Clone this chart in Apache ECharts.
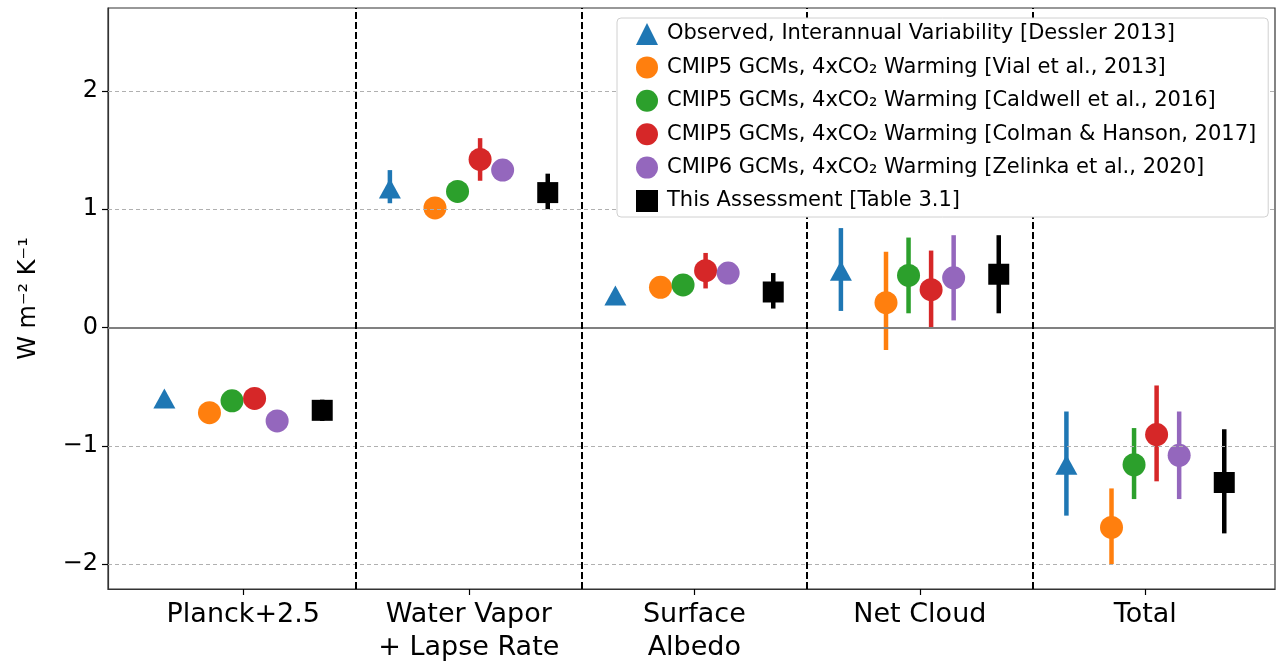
<!DOCTYPE html>
<html>
<head>
<meta charset="utf-8">
<script src="https://cdn.jsdelivr.net/npm/echarts@6/dist/echarts.min.js"></script>
<style>
  html, body { margin: 0; padding: 0; background: #fff; }
  #chart { width: 1284px; height: 664px; }
</style>
</head>
<body>
<div id="chart"></div>
<script>
// ---- data
const categories = ['Planck+2.5', 'Water Vapor\n+ Lapse Rate', 'Surface\nAlbedo', 'Net Cloud', 'Total'];
const yTicks = [-2, -1, 0, 1, 2];

const sourceNames = [
    'Observed, Interannual Variability [Dessler 2013]',
    'CMIP5 GCMs, 4xCO\u2082 Warming [Vial et al., 2013]',
    'CMIP5 GCMs, 4xCO\u2082 Warming [Caldwell et al., 2016]',
    'CMIP5 GCMs, 4xCO\u2082 Warming [Colman & Hanson, 2017]',
    'CMIP6 GCMs, 4xCO\u2082 Warming [Zelinka et al., 2020]',
    'This Assessment [Table 3.1]'
];
const offsets = [-0.35, -0.15, -0.05, 0.05, 0.15, 0.35];

const dessler     = [-0.60, 1.175, 0.27, 0.48, -1.16];
const desslerLow  = [null, 1.05, null, 0.14, -1.59];
const desslerHigh = [null, 1.33, null, 0.84, -0.71];

const vial     = [-0.72, 1.01, 0.34, 0.21, -1.69];
const vialLow  = [null, 0.92, null, -0.19, -2.00];
const vialHigh = [null, 1.10, null, 0.64, -1.36];

const caldwell     = [-0.62, 1.15, 0.36, 0.44, -1.16];
const caldwellLow  = [null, null, null, 0.12, -1.45];
const caldwellHigh = [null, null, null, 0.76, -0.85];

const colman     = [-0.60, 1.42, 0.48, 0.32, -0.905];
const colmanLow  = [null, 1.24, 0.33, 0.00, -1.30];
const colmanHigh = [null, 1.60, 0.63, 0.65, -0.49];

const zelinka     = [-0.79, 1.33, 0.46, 0.42, -1.08];
const zelinkaLow  = [null, null, null, 0.06, -1.45];
const zelinkaHigh = [null, null, null, 0.78, -0.71];

const assessment     = [-0.70, 1.14, 0.30, 0.45, -1.31];
const assessmentLow  = [-0.79, 1.00, 0.16, 0.12, -1.74];
const assessmentHigh = [-0.61, 1.30, 0.46, 0.78, -0.86];

const centers = [dessler, vial, caldwell, colman, zelinka, assessment];
const lows = [desslerLow, vialLow, caldwellLow, colmanLow, zelinkaLow, assessmentLow];
const highs = [desslerHigh, vialHigh, caldwellHigh, colmanHigh, zelinkaHigh, assessmentHigh];

const colors = ['#1f77b4', '#ff7f0e', '#2ca02c', '#d62728', '#9467bd', '#000000'];
const symbols = ['triangle', 'circle', 'circle', 'circle', 'circle', 'rect'];
const symbolSizes = [[22, 20], 23, 23, 23, 23, 21];

const FONT = 'DejaVu Sans';

var chart = echarts.init(document.getElementById('chart'));

let series = [];

// gridlines / separators / zero line
series.push({
    name: '_lines',
    type: 'line',
    data: [],
    z: 1,
    silent: true,
    markLine: {
        silent: true,
        symbol: 'none',
        animation: false,
        label: { show: false },
        data: [
            { yAxis: -2, lineStyle: { color: '#b0b0b0', width: 1, type: [4, 3] } },
            { yAxis: -1, lineStyle: { color: '#b0b0b0', width: 1, type: [4, 3] } },
            { yAxis: 1, lineStyle: { color: '#b0b0b0', width: 1, type: [4, 3] } },
            { yAxis: 2, lineStyle: { color: '#b0b0b0', width: 1, type: [4, 3] } },
            { yAxis: 0, lineStyle: { color: '#808080', width: 2, type: 'solid' } },
            { xAxis: 0.5, lineStyle: { color: '#000', width: 2, type: [7, 3] } },
            { xAxis: 1.5, lineStyle: { color: '#000', width: 2, type: [7, 3] } },
            { xAxis: 2.5, lineStyle: { color: '#000', width: 2, type: [7, 3] } },
            { xAxis: 3.5, lineStyle: { color: '#000', width: 2, type: [7, 3] } }
        ]
    }
});

sourceNames.forEach(function (name, s) {
    let errData = [];
    let ptData = [];
    categories.forEach(function (c, i) {
        let x = i + offsets[s];
        ptData.push([x, centers[s][i]]);
        if (lows[s][i] != null) {
            errData.push([x, lows[s][i], highs[s][i]]);
        }
    });
    // error bars
    series.push({
        name: '_err' + s,
        type: 'custom',
        z: 2,
        silent: true,
        data: errData,
        renderItem: function (params, api) {
            let p1 = api.coord([api.value(0), api.value(1)]);
            let p2 = api.coord([api.value(0), api.value(2)]);
            return {
                type: 'line',
                shape: { x1: p1[0], y1: p1[1], x2: p2[0], y2: p2[1] },
                style: { stroke: colors[s], lineWidth: 4.5 }
            };
        }
    });
    // markers
    series.push({
        name: name,
        type: 'scatter',
        z: 3,
        symbol: symbols[s],
        symbolSize: symbolSizes[s],
        itemStyle: { color: colors[s], opacity: 1 },
        data: ptData
    });
});

option = {
    animation: false,
    backgroundColor: '#fff',
    textStyle: { fontFamily: FONT },
    grid: {
        left: 108,
        right: 9,
        top: 8,
        bottom: 75,
        show: true,
        borderColor: '#333',
        borderWidth: 1.2,
        backgroundColor: 'transparent'
    },
    legend: {
        z: 20,
        zlevel: 1,
        orient: 'vertical',
        left: 617,
        top: 18,
        padding: [5, 12, 5, 19],
        itemWidth: 22,
        itemHeight: 22,
        itemGap: 11.4,
        data: sourceNames,
        backgroundColor: '#fff',
        borderColor: '#d0d0d0',
        borderWidth: 1,
        borderRadius: 4,
        textStyle: {
            fontFamily: FONT,
            fontSize: 21,
            color: '#000',
            padding: [0, 0, 0, 4]
        }
    },
    xAxis: {
        type: 'value',
        min: -0.6,
        max: 4.575,
        splitLine: { show: false },
        axisLine: { show: true, onZero: false, lineStyle: { color: '#333', width: 1.2 } },
        axisTick: {
            show: true,
            customValues: [0, 1, 2, 3, 4],
            length: 6,
            lineStyle: { color: '#000', width: 1.2 }
        },
        axisLabel: {
            customValues: [0, 1, 2, 3, 4],
            formatter: function (val) {
                return categories[Math.round(val)];
            },
            fontFamily: FONT,
            fontSize: 27,
            lineHeight: 33,
            color: '#000',
            margin: 9
        }
    },
    yAxis: {
        type: 'value',
        min: -2.21,
        max: 2.70,
        name: 'W m\u207B\u00B2 K\u207B\u00B9',
        nameLocation: 'middle',
        nameGap: 67,
        nameTextStyle: { fontFamily: FONT, fontSize: 24, color: '#000' },
        splitLine: { show: false },
        axisLine: { show: true, onZero: false, lineStyle: { color: '#333', width: 1.2 } },
        axisTick: {
            show: true,
            customValues: yTicks,
            length: 6,
            lineStyle: { color: '#000', width: 1.2 }
        },
        axisLabel: {
            customValues: yTicks,
            formatter: function (val) {
                return String(val).replace('-', '\u2212');
            },
            fontFamily: FONT,
            fontSize: 24,
            color: '#000',
            margin: 10
        }
    },
    series: series
};

chart.setOption(option);
</script>
</body>
</html>
